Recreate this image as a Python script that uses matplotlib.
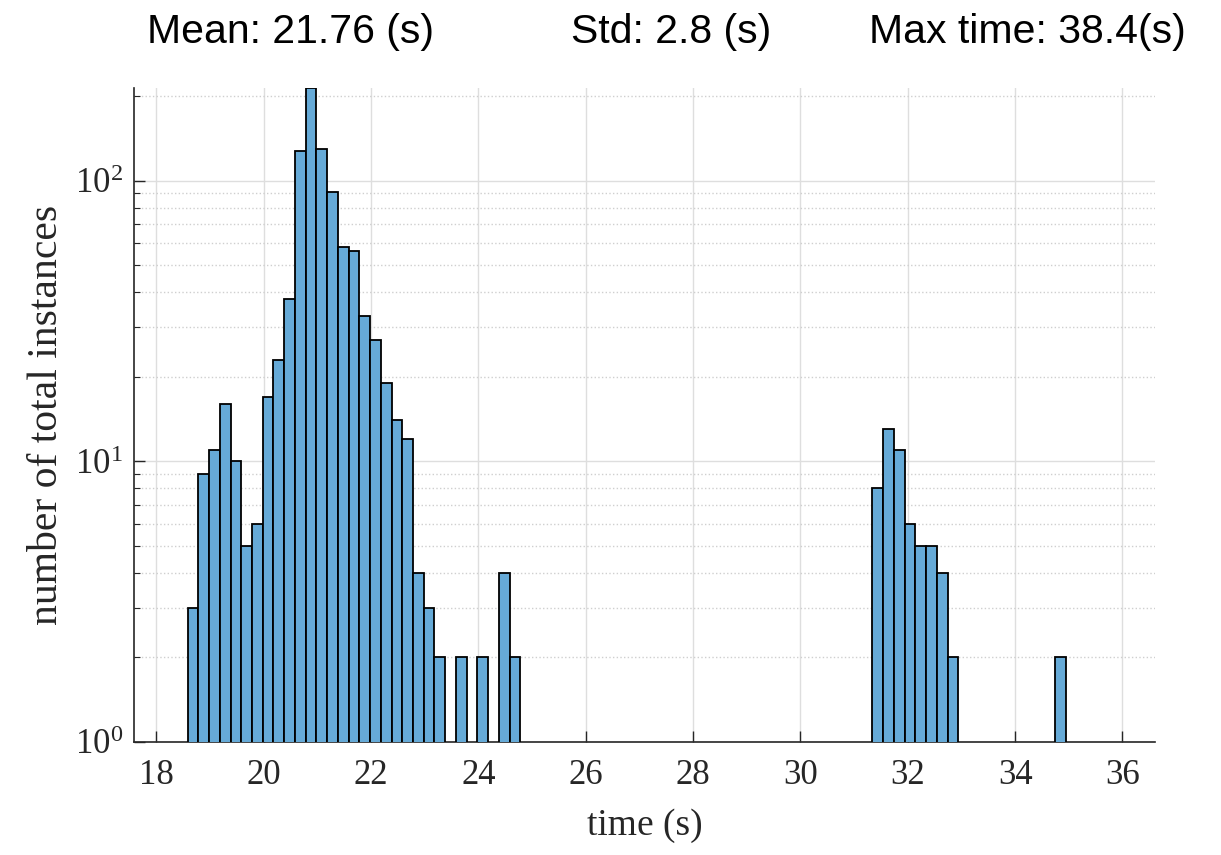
import numpy as np
import matplotlib
matplotlib.use("Agg")
import matplotlib.pyplot as plt
from matplotlib.ticker import LogLocator, NullFormatter

# run-time histogram, 0.2 s bins
BIN_W = 0.2
fast_start = 18.58
fast_counts = [3, 9, 11, 16, 10, 5, 6, 17, 23, 38, 128, 214, 130, 91, 58, 56,
               33, 27, 19, 14, 12, 4, 3, 2, 0, 2, 0, 2, 0, 4, 2]
slow_start = 31.34
slow_counts = [8, 13, 11, 6, 5, 5, 4, 2, 0, 0, 0, 0, 0, 0, 0, 0, 0, 2]

x_ticks = [18, 20, 22, 24, 26, 28, 30, 32, 34, 36]
stats = ["Mean: 21.76 (s)", "Std: 2.8 (s)", "Max time: 38.4(s)"]

FACE = "#66aad7"
INK = "#262626"
SERIF = "Liberation Serif"
SANS = "Liberation Sans"

plt.rcParams["mathtext.fontset"] = "custom"
plt.rcParams["mathtext.rm"] = SERIF
plt.rcParams["font.family"] = SERIF


def bins(start, counts):
    counts = np.asarray(counts, dtype=float)
    left = start + BIN_W * np.arange(len(counts))
    keep = counts > 0
    return left[keep], counts[keep]


fig = plt.figure(figsize=(12.21, 8.55), dpi=100)
ax = fig.add_axes([0.1097, 0.1322, 0.836, 0.765])

for start, counts in ((fast_start, fast_counts), (slow_start, slow_counts)):
    left, h = bins(start, counts)
    ax.bar(left, h, width=BIN_W, align="edge", color=FACE,
           edgecolor="black", linewidth=1.3, zorder=3)

ax.set_yscale("log")
ax.set_ylim(1, max(fast_counts + slow_counts))
ax.set_xlim(17.58, 36.6)
ax.set_xticks(x_ticks)
ax.yaxis.set_major_locator(LogLocator(base=10, numticks=10))
ax.yaxis.set_minor_locator(LogLocator(base=10, subs=np.arange(2, 10), numticks=10))
ax.yaxis.set_minor_formatter(NullFormatter())

ax.grid(True, which="major", color="#dedede", linewidth=1.0, zorder=0)
ax.grid(True, which="minor", axis="y", color="#cfcfcf", linestyle=":",
        linewidth=1.0, zorder=0)
ax.set_axisbelow(True)

for s in ("top", "right"):
    ax.spines[s].set_visible(False)
for s in ("left", "bottom"):
    ax.spines[s].set_color(INK)
    ax.spines[s].set_linewidth(1.2)

ax.tick_params(which="major", direction="in", length=8, width=1.0,
               colors=INK, labelsize=25, labelcolor=INK)
ax.tick_params(axis="x", which="major", pad=12)
ax.tick_params(axis="y", which="major", pad=8)
ax.tick_params(which="minor", direction="in", length=4, width=0.8, colors=INK)

ax.set_xlabel("time (s)", fontsize=27, color=INK, labelpad=12)
ax.set_ylabel("number of total instances", fontsize=30, color=INK, labelpad=6)

for x0, txt in zip((0.120, 0.468, 0.712), stats):
    fig.text(x0, 0.962, txt, family=SANS, fontsize=29.5, ha="left", va="center")

fig.savefig("out.png", dpi=100)
